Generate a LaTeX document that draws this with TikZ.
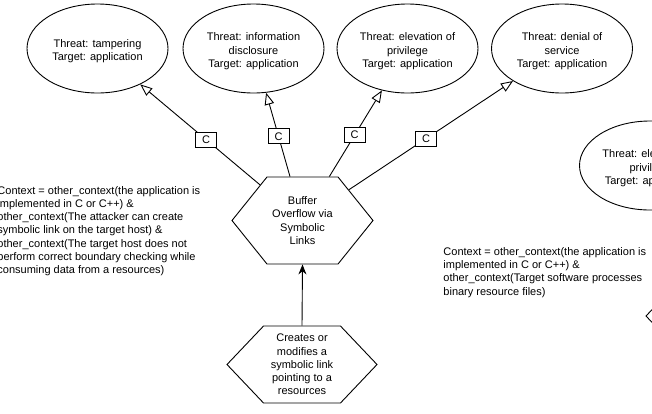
\documentclass[tikz,border=0pt]{standalone}
\usepackage{fontspec}
\setmainfont{Liberation Sans}
\usepackage{tikz}
\usetikzlibrary{shapes.geometric,shapes.symbols,arrows.meta,positioning}

\newcommand{\lbl}{\fontsize{11}{13.2}\selectfont}
\newcommand{\tstrut}{\rule{0pt}{13.5pt}} % pushes ellipse text down a little

\tikzset{
  threat/.style={draw, ellipse, fill=white, minimum width=141pt, minimum height=89pt, inner sep=0pt, align=center,
    font=\fontsize{11}{13.6}\selectfont},
  attack/.style={draw, signal, signal to=east and west, fill=white, inner sep=0pt, align=center, font=\lbl},
  cbox/.style={draw, fill=white, minimum width=21pt, minimum height=15pt, inner sep=0pt, font=\lbl},
  note/.style={anchor=west, align=left, inner sep=0pt, font=\lbl},
  link/.style={-{Triangle[open, length=12pt, width=9.5pt, fill=white]}},
}

\begin{document}
\begin{tikzpicture}[x=1pt, y=-1pt, line width=0.9pt]
    \useasboundingbox (0,0) rectangle (652,413);
    \clip (0,0) rectangle (652,413);

    % threats along the top
    \node[threat] (tamper)   at (97.5, 48.5)  {\tstrut Threat: tampering\\Target: application};
    \node[threat] (disclose) at (253.5, 48.5) {\tstrut Threat: information\\disclosure\\Target: application};
    \node[threat] (elevate)  at (407.5, 48.5) {\tstrut Threat: elevation of\\privilege\\Target: application};
    \node[threat] (denial)   at (562, 48.5)   {\tstrut Threat: denial of\\service\\Target: application};
    \node[threat] (elevateR) at (650, 165.5)  {\tstrut Threat: elevation of\\privilege\\Target: application}; % runs off the right edge

    % attack steps
    \node[attack, minimum width=141pt, minimum height=87pt, signal pointer angle=102.4] (buffer) at (302.5, 220.5) {Buffer\\Overflow via\\Symbolic\\Links};
    \node[attack, minimum width=150pt, minimum height=77pt, signal pointer angle=93] (symlink) at (302, 364.5) {Creates or\\modifies a\\symbolic link\\pointing to a\\resources};
    \node[attack, minimum width=150pt, minimum height=77pt, signal pointer angle=93] (stepR) at (721, 316) {}; % only its tip shows

    % contexts
    \node[note] (ctxL) at (-3, 231) {Context = other\_context(the application is\\implemented in C or C++) \&\\other\_context(The attacker can create\\symbolic link on the target host) \&\\other\_context(The target host does not\\perform correct boundary checking while\\consuming data from a resources)};
    \node[note] (ctxR) at (443, 272.5) {Context = other\_context(the application is\\implemented in C or C++) \&\\other\_context(Target software processes\\binary resource files)};

    % links
    \draw[link] (buffer) -- (tamper)   node[cbox, pos=0.45] {C};
    \draw[link] (buffer) -- (disclose) node[cbox, pos=0.48] {C};
    \draw[link] (buffer) -- (elevate)  node[cbox, pos=0.48] {C};
    \draw[link] (buffer) -- (denial)   node[cbox, pos=0.47] {C};
    \draw[-{Stealth[length=10pt, width=8pt]}] (symlink.north) -- (buffer.south);

\end{tikzpicture}
\end{document}
